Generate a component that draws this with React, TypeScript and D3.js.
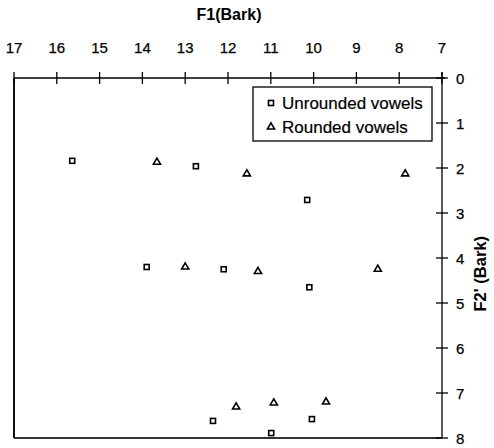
import React from "react";
import * as d3 from "d3";

const unroundedF1 = [15.64, 12.75, 10.15, 13.9, 12.1, 10.1, 12.35, 10.04, 10.99];
const unroundedF2 = [1.84, 1.96, 2.71, 4.2, 4.25, 4.65, 7.62, 7.58, 7.89];
const roundedF1 = [13.66, 11.56, 7.86, 13.0, 11.3, 8.5, 11.81, 10.93, 9.71];
const roundedF2 = [1.87, 2.13, 2.13, 4.2, 4.3, 4.25, 7.31, 7.22, 7.2];
const xTicks = [17, 16, 15, 14, 13, 12, 11, 10, 9, 8, 7];
const yTicks = [0, 1, 2, 3, 4, 5, 6, 7, 8];
const legendLabels = ["Unrounded vowels", "Rounded vowels"];

const W = 494;
const H = 448;
const x = d3.scaleLinear().domain([17, 7]).range([14, 442]);
const y = d3.scaleLinear().domain([0, 8]).range([78, 438]);

const font = "Arial, 'Liberation Sans', sans-serif";

function Square({ cx, cy }: { cx: number; cy: number }) {
  return <rect x={cx - 2.5} y={cy - 2.5} width={5} height={5} fill="white" stroke="black" strokeWidth={1.6} />;
}
const triPath = d3.symbol(d3.symbolTriangle, 22)();
function Tri({ cx, cy }: { cx: number; cy: number }) {
  return <path d={triPath as string} transform={`translate(${cx},${cy})`} fill="white" stroke="black" strokeWidth={1.6} />;
}

export default function App() {
  return (
    <svg width={W} height={H} style={{ position: "absolute", left: 0, top: 0, background: "white" }}>
      <rect x={0} y={0} width={W} height={H} fill="white" />
      <line x1={x(17)} x2={x(17)} y1={y(0)} y2={y(8)} stroke="#111" strokeWidth={2} />
      <line x1={x(17)} x2={x(7)} y1={y(8)} y2={y(8)} stroke="#333" strokeWidth={2} />
      <line x1={x(17)} x2={x(7) + 3} y1={y(0)} y2={y(0)} stroke="black" strokeWidth={1.3} />
      {xTicks.map((t) => (
        <g key={t}>
          <line x1={x(t)} x2={x(t)} y1={y(0) - 6} y2={y(0) + 6} stroke="black" strokeWidth={1.3} />
          <text x={x(t)} y={53} textAnchor="middle" fontFamily={font} fontSize={15} stroke="black" strokeWidth={0.25}>{t}</text>
        </g>
      ))}
      <text x={229} y={20} textAnchor="middle" fontFamily={font} fontSize={16} fontWeight="bold">F1(Bark)</text>
      <line x1={x(7)} x2={x(7)} y1={y(0) - 6} y2={y(8)} stroke="black" strokeWidth={1.3} />
      {yTicks.map((t) => (
        <g key={t}>
          <line x1={x(7) - 6} x2={x(7) + 6} y1={y(t)} y2={y(t)} stroke="black" strokeWidth={1.3} />
          <text x={456} y={y(t) + 6} textAnchor="start" fontFamily={font} fontSize={15} stroke="black" strokeWidth={0.25}>{t}</text>
        </g>
      ))}
      <text transform={`translate(486,${y(4.35)}) rotate(-90)`} textAnchor="middle" fontFamily={font} fontSize={16.5} fontWeight="bold">F2' (Bark)</text>
      {unroundedF1.map((v, i) => (
        <Square key={"u" + i} cx={x(v)} cy={y(unroundedF2[i])} />
      ))}
      {roundedF1.map((v, i) => (
        <Tri key={"r" + i} cx={x(v)} cy={y(roundedF2[i])} />
      ))}
      <rect x={253} y={87} width={179} height={54} fill="white" stroke="black" strokeWidth={1.3} />
      <Square cx={271} cy={103} />
      <text x={282} y={109} fontFamily={font} fontSize={17} stroke="black" strokeWidth={0.2}>{legendLabels[0]}</text>
      <Tri cx={271} cy={127} />
      <text x={282} y={133} fontFamily={font} fontSize={17} stroke="black" strokeWidth={0.2}>{legendLabels[1]}</text>
    </svg>
  );
}
